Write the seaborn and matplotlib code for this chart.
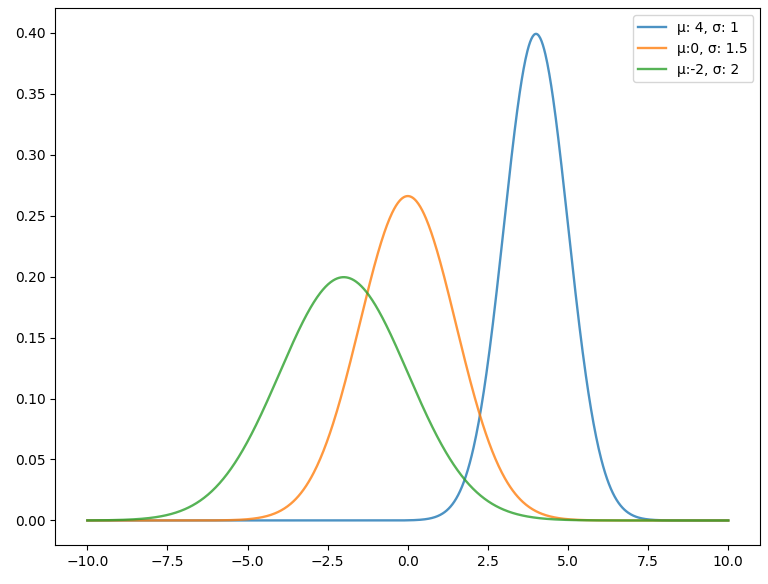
import numpy as np
import pandas as pd
import matplotlib
matplotlib.use('Agg')
import matplotlib.pyplot as plt
import seaborn as sns

# Distribution parameters (one curve per entry)
mus = [4, 0, -2]
sigmas = [1, 1.5, 2]
labels = ['μ: 4, σ: 1', 'μ:0, σ: 1.5', 'μ:-2, σ: 2']
x_range = (-10, 10)

# Build long-form table of the normal densities
x = np.linspace(x_range[0], x_range[1], 1000)
frames = []
for mu, sigma, label in zip(mus, sigmas, labels):
    pdf = np.exp(-0.5 * ((x - mu) / sigma) ** 2) / (sigma * np.sqrt(2 * np.pi))
    frames.append(pd.DataFrame({'x': x, 'pdf': pdf, 'dist': label}))
df = pd.concat(frames, ignore_index=True)

fig, ax = plt.subplots(figsize=(7.68, 5.84), dpi=100)
sns.lineplot(data=df, x='x', y='pdf', hue='dist', palette=['#1f77b4', '#ff7f0e', '#2ca02c'],
             linewidth=1.7, alpha=0.8, ax=ax)
ax.set_xlabel('')
ax.set_ylabel('')
ax.set_yticks(np.arange(0, 0.41, 0.05))
ax.set_ylim(-0.02, 0.42)
ax.legend(title=None, loc='upper right')

plt.subplots_adjust(left=0.072, right=0.99, top=0.986, bottom=0.067)
plt.savefig('out.png')
